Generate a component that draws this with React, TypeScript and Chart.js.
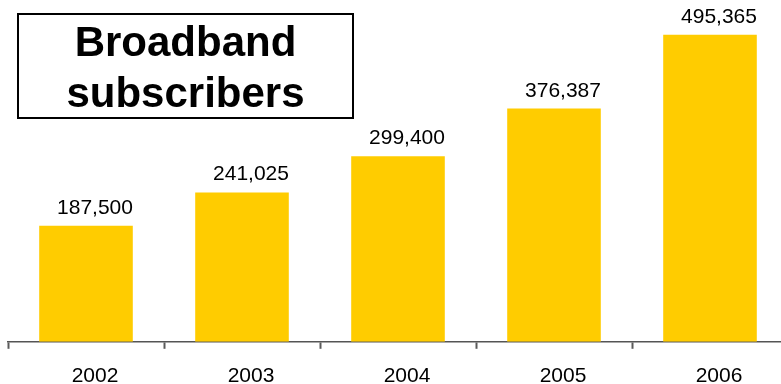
import React, { useEffect, useRef } from "react";
import { Chart, registerables } from "chart.js";

Chart.register(...registerables);

const years = ["2002", "2003", "2004", "2005", "2006"];
const subscribers = [187500, 241025, 299400, 376387, 495365];
const titleLines = ["Broadband", "subscribers"];

const FONT = "'Liberation Sans', Arial, Helvetica, sans-serif";
const BAR_COLOR = "#FFCC00";

// Writes each bar's value just above it
const valueLabels = {
  id: "valueLabels",
  afterDatasetsDraw(chart: any) {
    const ctx = chart.ctx;
    const meta = chart.getDatasetMeta(0);
    const values = chart.data.datasets[0].data as number[];
    ctx.save();
    ctx.font = `21px ${FONT}`;
    ctx.fillStyle = "#000";
    ctx.textAlign = "center";
    ctx.textBaseline = "alphabetic";
    meta.data.forEach((bar: any, i: number) => {
      ctx.fillText(values[i].toLocaleString("en-US"), bar.x + 9, bar.y - 12);
    });
    ctx.restore();
  },
};

// Boxed heading in the upper-left corner
const titleBox = {
  id: "titleBox",
  afterDraw(chart: any) {
    const ctx = chart.ctx;
    const x = 18, y = 14, w = 335, h = 104;
    ctx.save();
    ctx.fillStyle = "#fff";
    ctx.fillRect(x, y, w, h);
    ctx.strokeStyle = "#000";
    ctx.lineWidth = 2;
    ctx.strokeRect(x, y, w, h);
    ctx.fillStyle = "#000";
    ctx.font = `bold 42px ${FONT}`;
    ctx.textAlign = "center";
    ctx.textBaseline = "alphabetic";
    ctx.fillText(titleLines[0], x + w / 2, 56);
    ctx.fillText(titleLines[1], x + w / 2, 107);
    ctx.restore();
  },
};

export default function App() {
  const canvasRef = useRef<HTMLCanvasElement | null>(null);

  useEffect(() => {
    if (!canvasRef.current) return;
    const chart = new Chart(canvasRef.current, {
      type: "bar",
      data: {
        labels: years,
        datasets: [
          {
            data: subscribers,
            backgroundColor: BAR_COLOR,
            borderWidth: 0,
            barPercentage: 0.6,
            categoryPercentage: 1,
          },
        ],
      },
      options: {
        responsive: false,
        animation: false,
        devicePixelRatio: 1,
        layout: { padding: { left: 8, right: 8, top: 32, bottom: 0 } },
        plugins: {
          legend: { display: false },
          tooltip: { enabled: false },
          title: { display: false },
        },
        scales: {
          x: {
            grid: {
              display: true,
              drawOnChartArea: false,
              drawTicks: true,
              tickLength: 7,
              tickWidth: 2,
              tickColor: "#5a5a5a",
              offset: true,
            },
            border: { display: true, color: "#555", width: 1.5 },
            ticks: {
              color: "#000",
              font: { family: FONT, size: 21 },
              padding: 15,
              labelOffset: 9,
              maxRotation: 0,
              autoSkip: false,
            },
          },
          y: { display: false, min: 0, max: 500000 },
        },
      },
      plugins: [valueLabels, titleBox],
    });
    return () => chart.destroy();
  }, []);

  return (
    <div
      style={{
        position: "fixed",
        left: 0,
        top: 0,
        width: 781,
        height: 384,
        overflow: "hidden",
        background: "#fff",
      }}
    >
      <canvas ref={canvasRef} width={796} height={404} style={{ display: "block" }} />
    </div>
  );
}
